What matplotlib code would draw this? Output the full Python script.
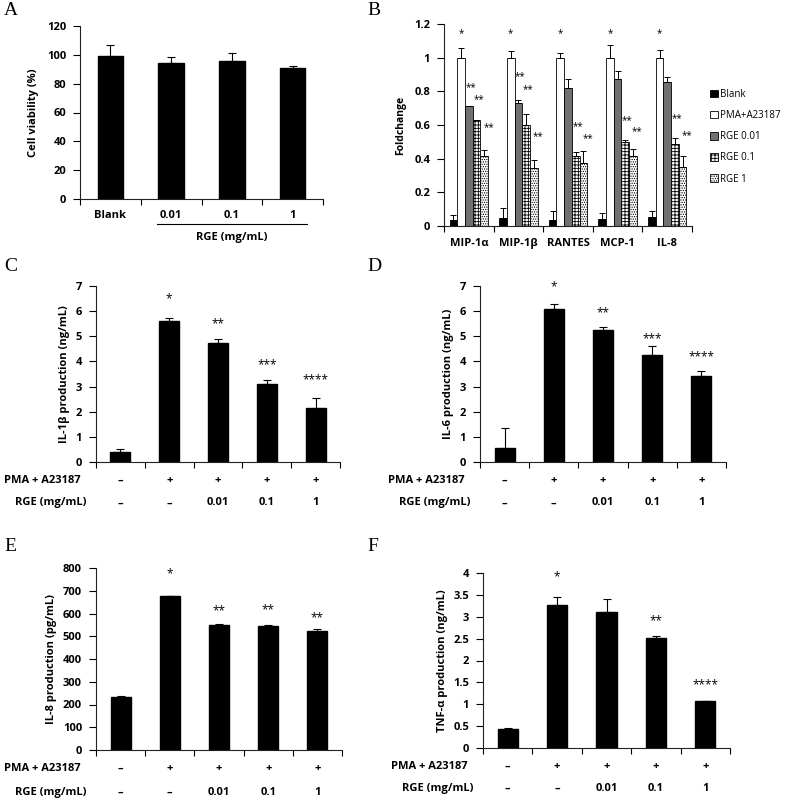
import numpy as np
import matplotlib
matplotlib.use("Agg")
import matplotlib.pyplot as plt
from matplotlib.transforms import blended_transform_factory

plt.rcParams['font.family'] = ['Open Sans', 'DejaVu Sans']
plt.rcParams['hatch.linewidth'] = 0.6

W, H = 787, 802

# ---- data ----
# A: cell viability
a_cats = ['Blank', '0.01', '0.1', '1']
a_vals = [99.5, 94.2, 95.5, 90.6]
a_err = [7.5, 4.2, 5.8, 1.8]

# B: fold change
b_cats = ['MIP-1α', 'MIP-1β', 'RANTES', 'MCP-1', 'IL-8']
b_series = ['Blank', 'PMA+A23187', 'RGE 0.01', 'RGE 0.1', 'RGE 1']
b_vals = [[0.035, 0.045, 0.035, 0.04, 0.055],
          [1.0, 1.0, 1.0, 1.0, 1.0],
          [0.71, 0.73, 0.82, 0.875, 0.855],
          [0.63, 0.60, 0.415, 0.50, 0.49],
          [0.415, 0.345, 0.375, 0.415, 0.35]]
b_err = [[0.03, 0.06, 0.055, 0.035, 0.035],
         [0.06, 0.04, 0.025, 0.075, 0.045],
         [0.0, 0.02, 0.055, 0.045, 0.03],
         [0.0, 0.065, 0.025, 0.01, 0.03],
         [0.035, 0.045, 0.07, 0.045, 0.065]]
# star labels: (series index, category index, y position, text)
b_stars = [(1, 0, 1.145, '*'), (1, 1, 1.145, '*'), (1, 2, 1.145, '*'), (1, 3, 1.145, '*'), (1, 4, 1.145, '*'),
           (2, 0, 0.82, '**'), (3, 0, 0.752, '**'), (4, 0, 0.584, '**'),
           (2, 1, 0.885, '**'), (3, 1, 0.808, '**'), (4, 1, 0.53, '**'),
           (3, 2, 0.588, '**'), (4, 2, 0.52, '**'),
           (3, 3, 0.628, '**'), (4, 3, 0.56, '**'),
           (3, 4, 0.64, '**'), (4, 4, 0.535, '**')]

pma_row = ['–', '+', '+', '+', '+']
rge_row = ['–', '–', '0.01', '0.1', '1']

c_vals = [0.4, 5.6, 4.72, 3.12, 2.15]
c_err = [0.1, 0.12, 0.17, 0.14, 0.4]
c_star = ['', '*', '**', '***', '****']
c_star_y = [0, 6.5, 5.48, 3.88, 3.25]

d_vals = [0.55, 6.07, 5.25, 4.27, 3.42]
d_err = [0.8, 0.22, 0.12, 0.33, 0.2]
d_star = ['', '*', '**', '***', '****']
d_star_y = [0, 6.96, 5.93, 4.9, 4.2]

e_vals = [232, 675, 550, 547, 523]
e_err = [7, 3, 3, 3, 8]
e_star = ['', '*', '**', '**', '**']
e_star_y = [0, 773, 611, 616, 582]

f_vals = [0.43, 3.28, 3.12, 2.52, 1.07]
f_err = [0.03, 0.17, 0.28, 0.05, 0.01]
f_star = ['', '*', '', '**', '****']
f_star_y = [0, 3.92, 0, 2.91, 1.45]


def box(x0, y0, x1, y1):
    return [x0 / W, 1 - y1 / H, (x1 - x0) / W, (y1 - y0) / H]


def style_ax(ax, ymax, ystep, n):
    ax.set_xlim(0, n)
    ax.set_ylim(0, ymax)
    ax.set_yticks(np.arange(0, ymax + ystep / 2, ystep))
    ax.set_xticks(np.arange(0, n + 1))
    ax.set_xticklabels([])
    for s in ['top', 'right']:
        ax.spines[s].set_visible(False)
    for s in ['left', 'bottom']:
        ax.spines[s].set_linewidth(0.8)
        ax.spines[s].set_color('#222222')
    ax.tick_params(axis='both', direction='out', length=4, width=0.8, labelsize=8)
    ax.tick_params(axis='y', length=5, pad=5)
    for t in ax.get_yticklabels():
        t.set_fontweight('bold')


fig = plt.figure(figsize=(W / 100, H / 100), dpi=100)

# ---- A ----
axA = fig.add_axes(box(80, 26, 323, 199))
x = np.arange(len(a_cats)) + 0.5
axA.bar(x, a_vals, width=0.42, color='black', edgecolor='black',
        yerr=[np.zeros(4), a_err], error_kw=dict(ecolor='black', elinewidth=0.8, capsize=3, capthick=0.8))
style_ax(axA, 120, 20, 4)
axA.set_ylabel('Cell viability (%)', fontsize=8, fontweight='bold', labelpad=6)
trA = blended_transform_factory(axA.transData, axA.transAxes)
for xi, lab in zip(x, a_cats):
    axA.text(xi, -0.093, lab, transform=trA, ha='center', va='center', fontsize=8, fontweight='bold')
axA.plot([1.27, 3.74], [-0.147, -0.147], transform=trA, color='black', lw=0.8, clip_on=False)
axA.text(2.5, -0.221, 'RGE (mg/mL)', transform=trA, ha='center', va='center', fontsize=8, fontweight='bold')

# ---- B ----
axB = fig.add_axes(box(444, 24, 692, 226))
bw = 0.155
colors = ['black', 'white', '#707070', 'white', 'white']
hatches = [None, None, None, '+++++', '.......']
xc = np.arange(len(b_cats)) + 0.5
handles = []
for i in range(5):
    xs = xc + (i - 2) * bw
    h = axB.bar(xs, b_vals[i], width=bw, color=colors[i], edgecolor='black', linewidth=0.6, hatch=hatches[i],
                yerr=[np.zeros(5), b_err[i]],
                error_kw=dict(ecolor='black', elinewidth=0.7, capsize=2, capthick=0.7))
    handles.append(h)
star_dx = {1: 0.0, 2: 0.04, 3: 0.04, 4: 0.09}
for si, ci, yy, txt in b_stars:
    axB.text(xc[ci] + (si - 2) * bw + star_dx[si], yy, txt, ha='center', va='center', fontsize=7)
style_ax(axB, 1.2, 0.2, 5)
axB.set_yticks([0, 0.2, 0.4, 0.6, 0.8, 1.0, 1.2])
axB.set_yticklabels(['0', '0.2', '0.4', '0.6', '0.8', '1', '1.2'], fontweight='bold')
axB.set_ylabel('Foldchange', fontsize=7.5, fontweight='bold', labelpad=6)
trB = blended_transform_factory(axB.transData, axB.transAxes)
for xi, lab in zip(xc, b_cats):
    axB.text(xi, -0.085, lab, transform=trB, ha='center', va='center', fontsize=8, fontweight='bold')
fig.legend(handles, b_series, loc='upper left', bbox_to_anchor=(701 / W, 1 - 80 / H), frameon=False,
           fontsize=7, handlelength=0.8, handleheight=0.8, handletextpad=0.3, labelspacing=1.05)


# ---- C-F ----
def cytokine(rect, vals, err, stars, stars_y, ymax, ystep, ylabel, ticklabels=None):
    ax = fig.add_axes(box(*rect))
    xs = np.arange(5) + 0.5
    ax.bar(xs, vals, width=0.41, color='black', edgecolor='black',
           yerr=[np.zeros(5), err], error_kw=dict(ecolor='black', elinewidth=0.8, capsize=3, capthick=0.8))
    for xi, s, yy in zip(xs, stars, stars_y):
        if s:
            ax.text(xi, yy, s, ha='center', va='center', fontsize=8.5)
    style_ax(ax, ymax, ystep, 5)
    if ticklabels is not None:
        ax.set_yticklabels(ticklabels, fontweight='bold')
    ax.set_ylabel(ylabel, fontsize=8, fontweight='bold', labelpad=4)
    tr = blended_transform_factory(ax.transData, ax.transAxes)
    for xi, p, r in zip(xs, pma_row, rge_row):
        ax.text(xi, -0.103, p, transform=tr, ha='center', va='center', fontsize=8, fontweight='bold')
        ax.text(xi, -0.232, r, transform=tr, ha='center', va='center', fontsize=8, fontweight='bold')
    ax.text(-0.061, -0.103, 'PMA + A23187', transform=ax.transAxes, ha='right', va='center',
            fontsize=8, fontweight='bold')
    ax.text(-0.037, -0.232, 'RGE (mg/mL)', transform=ax.transAxes, ha='right', va='center',
            fontsize=8, fontweight='bold')
    return ax


cytokine((96, 286, 340, 462), c_vals, c_err, c_star, c_star_y, 7, 1, 'IL-1β production (ng/mL)')
cytokine((480, 286, 726, 462), d_vals, d_err, d_star, d_star_y, 7, 1, 'IL-6 production (ng/mL)')
cytokine((96, 568, 342, 750), e_vals, e_err, e_star, e_star_y, 800, 100, 'IL-8 production (pg/mL)')
cytokine((483, 573, 730, 748), f_vals, f_err, f_star, f_star_y, 4, 0.5, 'TNF-α production (ng/mL)',
         ['0', '0.5', '1', '1.5', '2', '2.5', '3', '3.5', '4'])

# panel letters
for lab, px, py in [('A', 4, 2), ('B', 367, 2), ('C', 4, 258), ('D', 367, 258), ('E', 4, 538), ('F', 367, 538)]:
    fig.text(px / W, 1 - py / H, lab, ha='left', va='top', fontsize=14, family='Liberation Serif')

fig.savefig('out.png', dpi=100)
